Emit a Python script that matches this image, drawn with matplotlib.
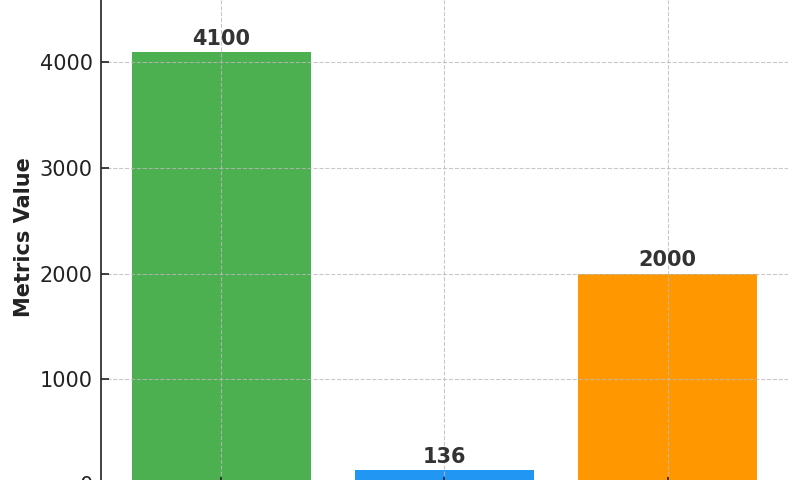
import matplotlib.pyplot as plt

categories = ["A", "B", "C"]
values = [4100, 136, 2000]
colors = ["#4CAF50", "#2196F3", "#FF9800"]

fig = plt.figure(figsize=(8, 4.8), dpi=100)
# axes run past the figure edges, as in the reference crop
ax = fig.add_axes([101 / 800, -4.5 / 480, 687 / 800, 4700 * 0.1055 / 480])

bars = ax.bar(categories, values, color=colors, width=0.8)
ax.set_ylim(0, 4700)
ax.set_yticks([0, 1000, 2000, 3000, 4000])

for b, v in zip(bars, values):
    ax.text(b.get_x() + b.get_width() / 2, v + 30, str(v),
            ha="center", va="bottom", fontsize=15, fontweight="bold", color="#333333")

ax.set_ylabel("Metrics Value", fontsize=15, fontweight="bold", color="#222222")
ax.tick_params(axis="both", labelsize=15, labelcolor="#222222", color="#222222",
               direction="in", length=6, width=1.2, pad=6)
ax.grid(True, linestyle="--", color="#bbbbbb", linewidth=0.8, alpha=0.8)

for s in ["top", "right", "bottom"]:
    ax.spines[s].set_visible(False)
ax.spines["left"].set_color("#222222")
ax.spines["left"].set_linewidth(1.2)

fig.savefig("out.png", dpi=100)
